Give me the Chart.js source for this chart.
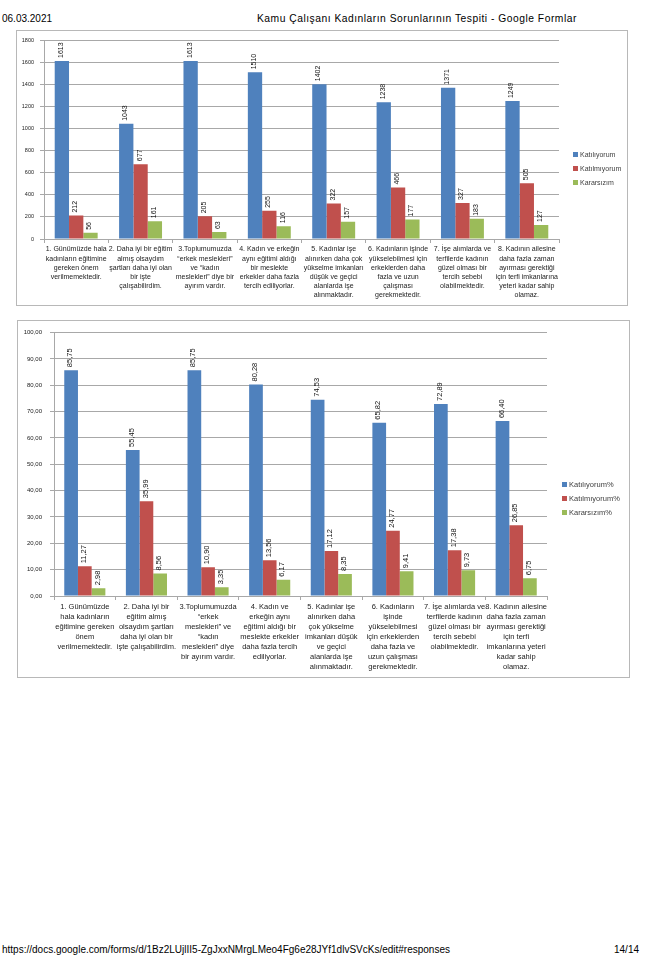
<!DOCTYPE html>
<html>
<head>
<meta charset="utf-8">
<script src="https://cdn.jsdelivr.net/npm/chart.js@4/dist/chart.umd.min.js"></script>
<style>
  html, body { margin: 0; padding: 0; background: #fff; }
  body { width: 660px; height: 964px; position: relative; font-family: "Liberation Sans", Arial, sans-serif; color: #000; }
  .hdr { position: absolute; font-size: 10px; white-space: nowrap; }
  .box { position: absolute; border: 1px solid #b8b8b8; box-sizing: border-box; background: #fff; }
  .box canvas { position: absolute; left: 0; top: 0; }
  .legend { position: absolute; font-size: 7px; color: #404040; }
  .legend div { position: relative; height: 14px; line-height: 8px; white-space: nowrap; padding-left: 7px; }
  .legend span { position: absolute; left: 0; top: 1px; width: 5px; height: 5px; }
</style>
</head>
<body>

<div class="hdr" style="left:2px; top:13px;">06.03.2021</div>
<div class="hdr" style="left:257px; top:13px; font-size:10.3px; letter-spacing:0.5px;">Kamu Çalışanı Kadınların Sorunlarının Tespiti - Google Formlar</div>

<div class="box" style="left:16px; top:30px; width:612px; height:276px;">
  <canvas id="countChart"></canvas>
</div>
<div class="legend" id="countLegend" style="left:573px; top:151px;"></div>

<div class="box" style="left:17px; top:320px; width:613px; height:358px;">
  <canvas id="pctChart"></canvas>
</div>
<div class="legend" id="pctLegend" style="left:562px; top:481px; font-size:7.5px;"></div>

<div class="hdr" style="left:2px; top:944px;">https://docs.google.com/forms/d/1Bz2LUjlII5-ZgJxxNMrgLMeo4Fg6e28JYf1dlvSVcKs/edit#responses</div>
<div class="hdr" style="left:614px; top:944px;">14/14</div>

<script>
// ── Data ─────────────────────────────────────────────────
const countLabels = [
  ['1. Günümüzde hala', 'kadınların eğitimine', 'gereken önem', 'verilmemektedir.'],
  ['2. Daha iyi bir eğitim', 'almış olsaydım', 'şartları daha iyi olan', 'bir işte', 'çalışabilirdim.'],
  ['3.Toplumumuzda', '“erkek meslekleri”', 've “kadın', 'meslekleri” diye bir', 'ayırım vardır.'],
  ['4. Kadın ve erkeğin', 'aynı eğitimi aldığı', 'bir meslekte', 'erkekler daha fazla', 'tercih ediliyorlar.'],
  ['5. Kadınlar işe', 'alınırken daha çok', 'yükselme imkanları', 'düşük ve geçici', 'alanlarda işe', 'alınmaktadır.'],
  ['6. Kadınların işinde', 'yükselebilmesi için', 'erkeklerden daha', 'fazla ve uzun', 'çalışması', 'gerekmektedir.'],
  ['7. İşe alımlarda ve', 'terfilerde kadının', 'güzel olması bir', 'tercih sebebi', 'olabilmektedir.'],
  ['8. Kadının ailesine', 'daha fazla zaman', 'ayırması gerektiği', 'için terfi imkanlarına', 'yeteri kadar sahip', 'olamaz.'],
];
const pctLabels = [
  ['1. Günümüzde', 'hala kadınların', 'eğitimine gereken', 'önem', 'verilmemektedir.'],
  ['2. Daha iyi bir', 'eğitim almış', 'olsaydım şartları', 'daha iyi olan bir', 'işte çalışabilirdim.'],
  ['3.Toplumumuzda', '“erkek', 'meslekleri” ve', '“kadın', 'meslekleri” diye', 'bir ayırım vardır.'],
  ['4. Kadın ve', 'erkeğin aynı', 'eğitimi aldığı bir', 'meslekte erkekler', 'daha fazla tercih', 'ediliyorlar.'],
  ['5. Kadınlar işe', 'alınırken daha', 'çok yükselme', 'imkanları düşük', 've geçici', 'alanlarda işe', 'alınmaktadır.'],
  ['6. Kadınların', 'işinde', 'yükselebilmesi', 'için erkeklerden', 'daha fazla ve', 'uzun çalışması', 'gerekmektedir.'],
  ['7. İşe alımlarda ve', 'terfilerde kadının', 'güzel olması bir', 'tercih sebebi', 'olabilmektedir.'],
  ['8. Kadının ailesine', 'daha fazla zaman', 'ayırması gerektiği', 'için terfi', 'imkanlarına yeteri', 'kadar sahip', 'olamaz.'],
];

const agreeCount    = [1613, 1043, 1613, 1510, 1402, 1238, 1371, 1249];
const disagreeCount = [212, 677, 205, 255, 322, 466, 327, 505];
const undecidedCount = [56, 161, 63, 116, 157, 177, 183, 127];

const agreePct     = [85.75, 55.45, 85.75, 80.28, 74.53, 65.82, 72.89, 66.40];
const disagreePct  = [11.27, 35.99, 10.90, 13.56, 17.12, 24.77, 17.38, 26.85];
const undecidedPct = [2.98, 8.56, 3.35, 6.17, 8.35, 9.41, 9.73, 6.75];

const countSeriesNames = ['Katılıyorum', 'Katılmıyorum', 'Kararsızım'];
const pctSeriesNames   = ['Katılıyorum%', 'Katılmıyorum%', 'Kararsızım%'];

const colors = ['#4f81bd', '#c0504d', '#9bbb59'];
const GRID = '#a8a8a8';
const FONT = '"Liberation Sans", Arial, sans-serif';

const commaFmt = v => v.toFixed(2).replace('.', ',');

// ── Rotated value labels above each bar ──────────────────
const barLabels = {
  id: 'barLabels',
  afterDatasetsDraw(chart, args, opts) {
    const ctx = chart.ctx;
    ctx.save();
    ctx.font = opts.size + 'px ' + FONT;
    ctx.fillStyle = '#111';
    ctx.textAlign = 'left';
    ctx.textBaseline = 'middle';
    chart.data.datasets.forEach((ds, i) => {
      chart.getDatasetMeta(i).data.forEach((bar, j) => {
        ctx.save();
        ctx.translate(bar.x - 1, bar.y - 3);
        ctx.rotate(-Math.PI / 2);
        ctx.fillText(opts.format(ds.data[j]), 0, 0);
        ctx.restore();
      });
    });
    ctx.restore();
  }
};

function makeChart(id, o) {
  const canvas = document.getElementById(id);
  const box = canvas.parentElement;
  canvas.width = box.clientWidth; canvas.height = box.clientHeight;
  return new Chart(canvas, {
    type: 'bar',
    data: {
      labels: o.labels,
      datasets: o.series.map((d, i) => ({
        label: o.names[i], data: d, backgroundColor: colors[i],
        categoryPercentage: 0.667, barPercentage: 1.0,
      })),
    },
    plugins: [barLabels],
    options: {
      responsive: false, animation: false, devicePixelRatio: 1,
      layout: { padding: { top: o.padTop, right: o.padRight, left: 0, bottom: 0 } },
      plugins: {
        legend: { display: false }, tooltip: { enabled: false },
        barLabels: { size: o.valSize, format: o.valFmt },
      },
      scales: {
        x: {
          afterFit: s => { s.height = o.xHeight; },
          border: { color: GRID },
          grid: { offset: true, drawOnChartArea: false, drawTicks: true, tickLength: 4, color: GRID },
          ticks: { autoSkip: false, maxRotation: 0, minRotation: 0, padding: 2, color: '#222',
                   font: { family: FONT, size: o.catSize, lineHeight: o.catLine } },
        },
        y: {
          min: o.min, max: o.max,
          afterFit: s => { s.width = o.yWidth; },
          border: { color: GRID },
          grid: { color: GRID, tickLength: 4 },
          ticks: { stepSize: o.step, padding: o.yPad, color: '#222', font: { family: FONT, size: o.ySize },
                   callback: o.yFmt },
        },
      },
    },
  });
}

function buildLegend(id, names) {
  document.getElementById(id).innerHTML = names.map((n, i) =>
    `<div><span style="background:${colors[i]}"></span>${n}</div>`).join('');
}

makeChart('countChart', {
  labels: countLabels, series: [agreeCount, disagreeCount, undecidedCount], names: countSeriesNames,
  min: 0, max: 1800, step: 200, yFmt: v => v,
  padTop: 9, padRight: 68, xHeight: 66, yWidth: 27, yPad: 6,
  valSize: 7, valFmt: v => v, catSize: 7, catLine: 1.3, ySize: 5.5,
});
buildLegend('countLegend', countSeriesNames);

makeChart('pctChart', {
  labels: pctLabels, series: [agreePct, disagreePct, undecidedPct], names: pctSeriesNames,
  min: 0, max: 100, step: 10, yFmt: v => commaFmt(v),
  padTop: 10, padRight: 82, xHeight: 81, yWidth: 36, yPad: 8,
  valSize: 7.5, valFmt: commaFmt, catSize: 7.5, catLine: 1.33, ySize: 6,
});
buildLegend('pctLegend', pctSeriesNames);
</script>
</body>
</html>
